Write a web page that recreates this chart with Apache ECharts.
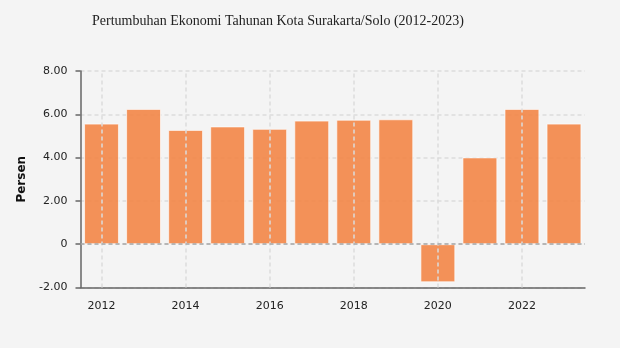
<!DOCTYPE html>
<html>
<head>
<meta charset="utf-8">
<script src="https://cdn.jsdelivr.net/npm/echarts@6/dist/echarts.min.js"></script>
<style>
  html, body { margin: 0; padding: 0; background: #f4f4f4; }
  #chart { width: 620px; height: 348px; }
</style>
</head>
<body>
<div id="chart"></div>
<script>
// Annual economic growth of Surakarta/Solo, percent
const years = ['2012','2013','2014','2015','2016','2017','2018','2019','2020','2021','2022','2023'];
const growth = [5.57, 6.25, 5.28, 5.44, 5.33, 5.71, 5.75, 5.77, -1.76, 4.01, 6.25, 5.57];
const yTicks = { min: -2, max: 8, interval: 2 };
// years that get a label, tick and vertical guide line
const labelledYears = years.filter((_, i) => i % 2 === 0);

const font = '"DejaVu Sans", Verdana, sans-serif';
const chart = echarts.init(document.getElementById('chart'), null, { renderer: 'canvas' });

chart.setOption({
  backgroundColor: '#f4f4f4',
  animation: false,
  title: {
    text: 'Pertumbuhan Ekonomi Tahunan Kota Surakarta/Solo (2012-2023)',
    left: 87,
    top: 9,
    textStyle: {
      fontFamily: '"Liberation Serif", "DejaVu Serif", serif',
      fontWeight: 'normal',
      fontSize: 14,
      color: '#222'
    }
  },
  grid: { left: 80.5, right: 35, top: 71, bottom: 60.5, containLabel: false },
  xAxis: {
    type: 'category',
    data: years,
    boundaryGap: true,
    axisLine: { onZero: false, lineStyle: { color: '#666', width: 1.5 } },
    axisTick: { interval: 1, alignWithLabel: true, length: 5, lineStyle: { color: '#666', width: 1.5 } },
    axisLabel: { interval: 1, margin: 13, fontFamily: font, fontSize: 11, color: '#222' },
    splitLine: { show: false }
  },
  yAxis: {
    type: 'value',
    min: yTicks.min, max: yTicks.max, interval: yTicks.interval,
    name: 'Persen',
    nameLocation: 'middle',
    nameGap: 47,
    nameRotate: 90,
    nameTextStyle: { fontFamily: font, fontSize: 12, fontWeight: 'bold', color: '#111' },
    axisLine: { show: true, lineStyle: { color: '#666', width: 1.5 } },
    axisTick: { show: true, length: 5, lineStyle: { color: '#666', width: 1.5 } },
    axisLabel: {
      margin: 13, fontFamily: font, fontSize: 11, color: '#222',
      formatter: v => v === 0 ? '0' : v.toFixed(2)
    },
    splitLine: { lineStyle: { color: '#dcdcdc', type: [4, 3], width: 1.5 } }
  },
  series: [
    {
      // carrier for the vertical guide lines, kept beneath the bars
      type: 'line',
      data: growth,
      z: 1,
      silent: true,
      symbol: 'none',
      lineStyle: { opacity: 0 },
      markLine: {
        silent: true,
        symbol: 'none',
        label: { show: false },
        lineStyle: { color: '#dcdcdc', type: [4, 3], width: 1.5 },
        data: labelledYears.map(y => ({ xAxis: y }))
      }
    },
    {
      type: 'bar',
      data: growth,
      z: 2,
      barWidth: '83%',
      itemStyle: { color: '#f2884a', opacity: 0.92, borderColor: 'rgba(255,255,255,0.7)', borderWidth: 1 },
      markLine: {
        silent: true,
        symbol: 'none',
        label: { show: false },
        lineStyle: { color: '#a8a8a8', type: [4, 3], width: 1.5 },
        data: [{ yAxis: 0 }]
      }
    }
  ]
});
</script>
</body>
</html>
